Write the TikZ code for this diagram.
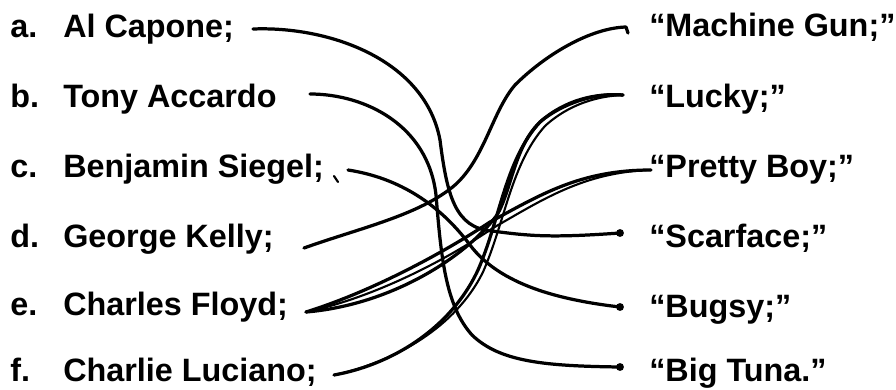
\documentclass[tikz,border=0pt]{standalone}
\usepackage{fontspec}
\setmainfont{Liberation Sans}
\tikzset{
  pen/.style={line width=2.3pt, line cap=round, line join=round},
  thin pen/.style={pen, line width=1.5pt},
  item/.style={anchor=base west, inner sep=0pt, font=\fontsize{23}{27}\selectfont\bfseries},
}
\begin{document}
\begin{tikzpicture}[x=0.025cm, y=-0.025cm]
\useasboundingbox (0,0) rectangle (896,389);
% left column
\node[item] (la) at (10,37) {a.};
\node[item] (capone) at (63,37) {Al Capone;};
\node[item] (lb) at (10,107) {b.};
\node[item] (accardo) at (63,107) {Tony Accardo};
\node[item] (lc) at (10,177) {c.};
\node[item] (siegel) at (63,177) {Benjamin Siegel;};
\node[item] (ld) at (10,247) {d.};
\node[item] (kelly) at (63,247) {George Kelly;};
\node[item] (le) at (10,315) {e.};
\node[item] (floyd) at (63,315) {Charles Floyd;};
\node[item] (lf) at (10,381) {f.};
\node[item] (luciano) at (63,381) {Charlie Luciano;};
% right column
\node[item] (gun) at (649,36) {“Machine Gun;”};
\node[item] (lucky) at (649,107) {“Lucky;”};
\node[item] (pretty) at (649,177) {“Pretty Boy;”};
\node[item] (scarface) at (649,247) {“Scarface;”};
\node[item] (bugsy) at (649,317) {“Bugsy;”};
\node[item] (bigtuna) at (649,381) {“Big Tuna.”};
% line ends
\coordinate (capone-r) at (253,29);
\coordinate (accardo-r) at (310,94);
\coordinate (siegel-r) at (348,170);
\coordinate (kelly-r) at (304,248);
\coordinate (floyd-r) at (306,312);
\coordinate (luciano-r) at (334,375);
\coordinate (gun-l) at (626,27);
\coordinate (gun-hook) at (628,33);
\coordinate (lucky-l) at (623,95);
\coordinate (pretty-l) at (651,170);
\coordinate (scarface-l) at (620,233);
\coordinate (bugsy-l) at (620,307);
\coordinate (bigtuna-l) at (620,367);
% a
\draw[pen] (capone-r) .. controls (330,26) and (425,60) .. (440,140)
  .. controls (447,195) and (455,228) .. (492,231)
  .. controls (530,236) and (550,238) .. (scarface-l);
% b
\draw[pen] (accardo-r) .. controls (365,94) and (428,125) .. (436,195)
  .. controls (441,255) and (445,305) .. (472,335)
  .. controls (500,362) and (545,366) .. (bigtuna-l);
% c
\draw[pen] (siegel-r) .. controls (400,178) and (440,205) .. (470,245)
  .. controls (500,285) and (560,300) .. (bugsy-l);
\draw[thin pen] (334,176) -- (338,182);
% d
\draw[pen] (kelly-r) .. controls (360,228) and (420,215) .. (455,185)
  .. controls (485,158) and (492,112) .. (515,85)
  .. controls (545,55) and (590,28) .. (gun-l) -- (gun-hook);
% e
\draw[pen] (floyd-r) .. controls (370,292) and (440,255) .. (490,222)
  .. controls (540,195) and (580,170) .. (pretty-l);
\draw[thin pen] (floyd-r) .. controls (372,298) and (443,262) .. (493,228)
  .. controls (542,200) and (584,172) .. (pretty-l);
\draw[pen] (floyd-r) .. controls (390,305) and (465,258) .. (497,215)
  .. controls (512,190) and (515,140) .. (545,118)
  .. controls (570,100) and (600,93) .. (lucky-l);
% f
\draw[pen] (luciano-r) .. controls (390,365) and (450,330) .. (478,270)
  .. controls (500,220) and (505,160) .. (540,122)
  .. controls (565,100) and (595,93) .. (lucky-l);
\draw[thin pen] (luciano-r) .. controls (395,362) and (456,327) .. (483,272)
  .. controls (505,222) and (511,164) .. (545,126)
  .. controls (569,104) and (598,96) .. (lucky-l);
% dots
\fill (scarface-l) circle (2.8pt);
\fill (bugsy-l) circle (2.8pt);
\fill (bigtuna-l) circle (2.8pt);
\end{tikzpicture}
\end{document}
